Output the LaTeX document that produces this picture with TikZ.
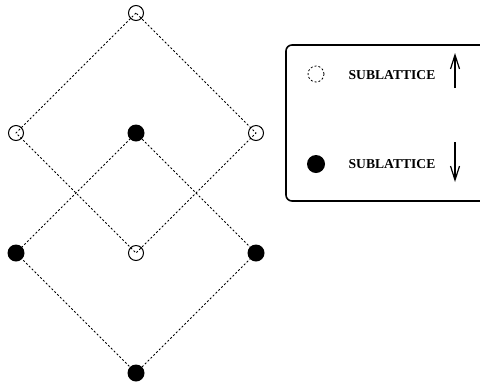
\documentclass[tikz,border=0pt]{standalone}
\usepackage{fontspec}
\setmainfont{Liberation Serif}
\usetikzlibrary{arrows.meta}
\tikzset{
  upsite/.style={circle,draw,line width=0.5pt,minimum size=7.5pt,inner sep=0pt},
  downsite/.style={circle,fill=black,minimum size=8.5pt,inner sep=0pt},
  bond/.style={line width=0.4pt,dash pattern=on 1pt off 1pt},
  spin/.style={line width=0.6pt,-{Straight Barb[length=7pt,width=4.5pt]}},
  keytext/.style={font=\fontsize{6.8}{8}\selectfont\bfseries,inner sep=0pt},
}
\begin{document}
\begin{tikzpicture}[x=0.5pt,y=-0.5pt]
		\clip (0,0) rectangle (480,381);
		% up sublattice
		\node[upsite] (u1) at (136,13) {};
		\node[upsite] (u2) at (16,133) {};
		\node[upsite] (u3) at (256,133) {};
		\node[upsite] (u4) at (136,253) {};
		% down sublattice
		\node[downsite] (d1) at (136,133) {};
		\node[downsite] (d2) at (16,253) {};
		\node[downsite] (d3) at (256,253) {};
		\node[downsite] (d4) at (136,373) {};
		\draw[bond] (u1.center) -- (u2.center) -- (u4.center) -- (u3.center) -- (u1.center);
		\draw[bond] (d1.center) -- (d2.center) -- (d4.center) -- (d3.center) -- (d1.center);
		% legend
		\draw[line width=0.8pt,rounded corners=3pt] (286,45) rectangle (500,201);
		\node[circle,draw,bond,minimum size=8pt,inner sep=0pt] (ku) at (316,74) {};
		\node[keytext] (tu) at (392,75) {SUBLATTICE};
		\coordinate (au) at (455,88);
		\coordinate (bu) at (455,53);
		\draw[spin] (au) -- (bu);
		\node[downsite,minimum size=9pt] (kd) at (316,164) {};
		\node[keytext] (td) at (392,164) {SUBLATTICE};
		\coordinate (ad) at (455,142);
		\coordinate (bd) at (455,182);
		\draw[spin] (ad) -- (bd);
	\end{tikzpicture}
\end{document}
